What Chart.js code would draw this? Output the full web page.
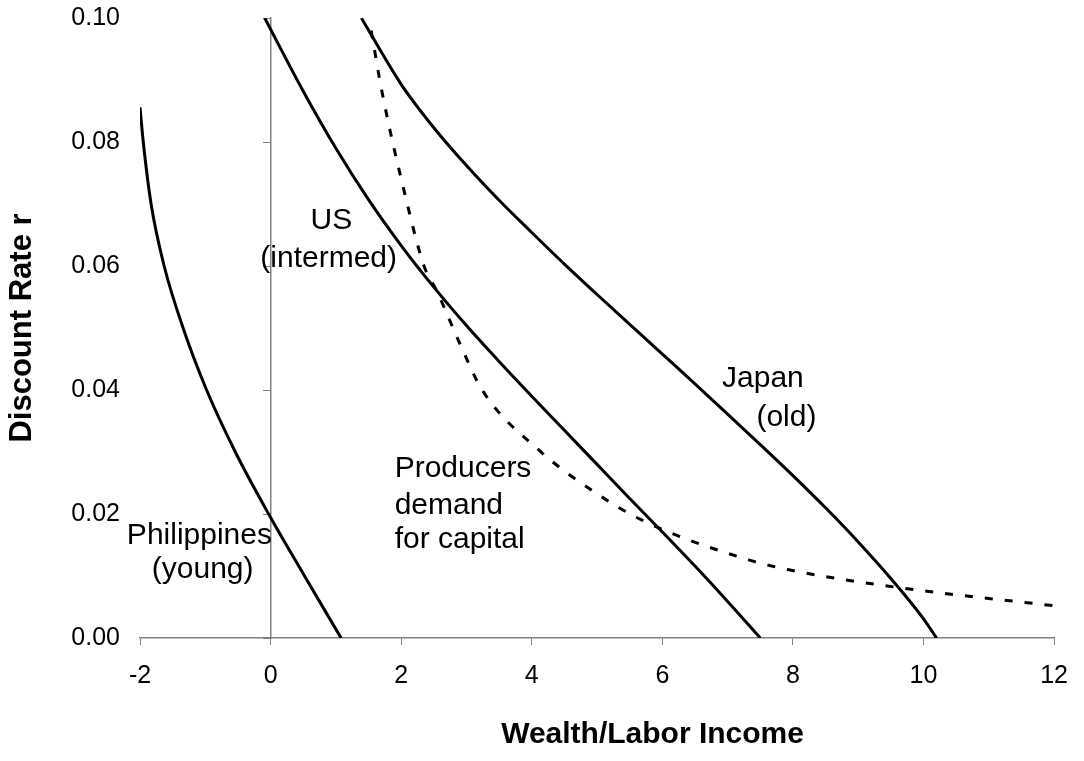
<!DOCTYPE html>
<html>
<head>
<meta charset="utf-8">
<script src="https://cdn.jsdelivr.net/npm/chart.js@4.4.1/dist/chart.umd.min.js"></script>
<style>
  html, body { margin: 0; padding: 0; background: #fff; }
  #wrap { width: 1084px; height: 761px; }
</style>
</head>
<body>
<div id="wrap"><canvas id="wealthChart" width="1084" height="761"></canvas></div>
<script>
  // Curve points (x = wealth/labor income, y = discount rate)
  const philX = [-2.0, -1.95, -1.83, -1.63, -1.34, -0.98, -0.54, -0.03, 0.52, 1.08];
  const philY = [0.0856, 0.08, 0.07, 0.06, 0.05, 0.04, 0.03, 0.02, 0.01, 0.0];

  const usX = [-0.09, 0.5, 1.0, 1.5, 2.0, 2.5, 3.0, 3.5, 4.0, 4.5, 5.0, 5.5, 6.0, 6.5, 7.0, 7.5];
  const usY = [0.1, 0.0882, 0.079, 0.0707, 0.0633, 0.0566, 0.0504, 0.0446, 0.039, 0.0335, 0.028, 0.0225, 0.0171, 0.0116, 0.0059, 0.0];

  const japanX = [1.39, 2.0, 2.5, 3.0, 3.5, 4.0, 4.5, 5.0, 5.5, 6.0, 6.5, 7.0, 7.5, 8.0, 8.5, 9.0, 9.5, 10.0, 10.2];
  const japanY = [0.1, 0.0893, 0.0823, 0.0762, 0.0706, 0.0654, 0.0603, 0.0554, 0.0506, 0.0458, 0.041, 0.0361, 0.0312, 0.0262, 0.021, 0.0155, 0.0096, 0.0031, 0.0];

  const demandX = [1.54, 1.71, 2.08, 2.35, 2.54, 2.94, 3.24, 4.11, 4.98, 5.69, 7.32, 7.94, 9.57, 12.0];
  const demandY = [0.098, 0.0879, 0.0706, 0.06, 0.0561, 0.0465, 0.04, 0.0303, 0.0234, 0.019, 0.0126, 0.011, 0.0082, 0.0052];

  const xTicks = [-2, 0, 2, 4, 6, 8, 10, 12];
  const yTicks = [0.0, 0.02, 0.04, 0.06, 0.08, 0.1];

  // Text labels placed in data coordinates
  const noteText = ["US", "(intermed)", "Philippines", "(young)", "Producers", "demand", "for capital", "Japan", "(old)"];
  const noteX = [0.93, 0.89, -1.09, -1.04, 1.9, 1.9, 1.9, 7.54, 7.9];
  const noteY = [0.0673, 0.0612, 0.0165, 0.011, 0.0273, 0.0213, 0.0158, 0.0418, 0.0356];
  const noteAlign = ["center", "center", "center", "center", "left", "left", "left", "center", "center"];

  const xTitle = "Wealth/Labor Income";
  const yTitle = "Discount Rate r";

  const FONT = "Arial, 'Liberation Sans', sans-serif";
  const AXIS_GRAY = "#808080";

  function toPoints(xs, ys) {
    return xs.map((x, i) => ({ x: x, y: ys[i] }));
  }

  function curve(label, xs, ys, dash) {
    return {
      label: label,
      data: toPoints(xs, ys),
      borderColor: "#000",
      borderWidth: 3,
      borderDash: dash || [],
      pointRadius: 0,
      fill: false,
      cubicInterpolationMode: "monotone",
      yAxisID: "y",
    };
  }

  // Curve labels and the x axis title, placed with the chart scales
  const notesPlugin = {
    id: "notes",
    afterDatasetsDraw(chart) {
      const { ctx, scales } = chart;
      ctx.save();
      ctx.font = "30px " + FONT;
      ctx.fillStyle = "#000";
      ctx.textBaseline = "middle";
      noteText.forEach((t, i) => {
        ctx.textAlign = noteAlign[i];
        ctx.fillText(t, scales.x.getPixelForValue(noteX[i]), scales.y.getPixelForValue(noteY[i]));
      });

      // x title sits a bit right of the plot centre, as in the original
      ctx.font = "bold 30px " + FONT;
      ctx.textAlign = "center";
      ctx.fillText(xTitle, scales.x.getPixelForValue(5.85), scales.x.bottom - 26);
      ctx.restore();
    },
  };

  const ctx = document.getElementById("wealthChart").getContext("2d");
  new Chart(ctx, {
    type: "line",
    data: {
      datasets: [
        curve("Philippines (young)", philX, philY),
        curve("US (intermed)", usX, usY),
        curve("Japan (old)", japanX, japanY),
        curve("Producers demand for capital", demandX, demandY, [8, 12]),
      ],
    },
    options: {
      responsive: false,
      animation: false,
      layout: { padding: { top: 18, right: 28, bottom: 0, left: 0 } },
      plugins: {
        legend: { display: false },
        tooltip: { enabled: false },
      },
      scales: {
        x: {
          type: "linear",
          position: "bottom",
          min: -2,
          max: 12,
          afterBuildTicks: (scale) => {
            scale.ticks = xTicks.map((v) => ({ value: v }));
          },
          afterFit: (scale) => {
            scale.height = 123;
          },
          ticks: {
            color: "#000",
            font: { family: FONT, size: 25 },
            padding: 16,
            maxRotation: 0,
          },
          grid: {
            drawOnChartArea: false,
            drawTicks: true,
            tickLength: 7,
            color: AXIS_GRAY,
          },
          border: { display: true, color: AXIS_GRAY, width: 1.5 },
        },
        // axis line that crosses at x = 0
        y: {
          type: "linear",
          position: { x: 0 },
          min: 0,
          max: 0.1,
          afterBuildTicks: (scale) => {
            scale.ticks = yTicks.map((v) => ({ value: v }));
          },
          ticks: { display: false },
          grid: {
            drawOnChartArea: false,
            drawTicks: true,
            tickLength: 7,
            color: AXIS_GRAY,
          },
          border: { display: true, color: AXIS_GRAY, width: 1.5 },
        },
        // tick labels kept at the left edge of the plot
        yLabels: {
          type: "linear",
          position: "left",
          min: 0,
          max: 0.1,
          afterBuildTicks: (scale) => {
            scale.ticks = yTicks.map((v) => ({ value: v }));
          },
          afterFit: (scale) => {
            scale.width = 140;
          },
          ticks: {
            color: "#000",
            font: { family: FONT, size: 25 },
            padding: 3,
            callback: (v) => v.toFixed(2),
          },
          // invisible tick marks only push the labels away from the plot
          grid: {
            display: true,
            drawOnChartArea: false,
            drawTicks: true,
            tickLength: 17,
            color: "rgba(0,0,0,0)",
          },
          border: { display: false },
          title: {
            display: true,
            text: yTitle,
            color: "#000",
            font: { family: FONT, size: 31, weight: "bold" },
            padding: { top: 4, bottom: 0 },
          },
        },
      },
    },
    plugins: [notesPlugin],
  });
</script>
</body>
</html>
